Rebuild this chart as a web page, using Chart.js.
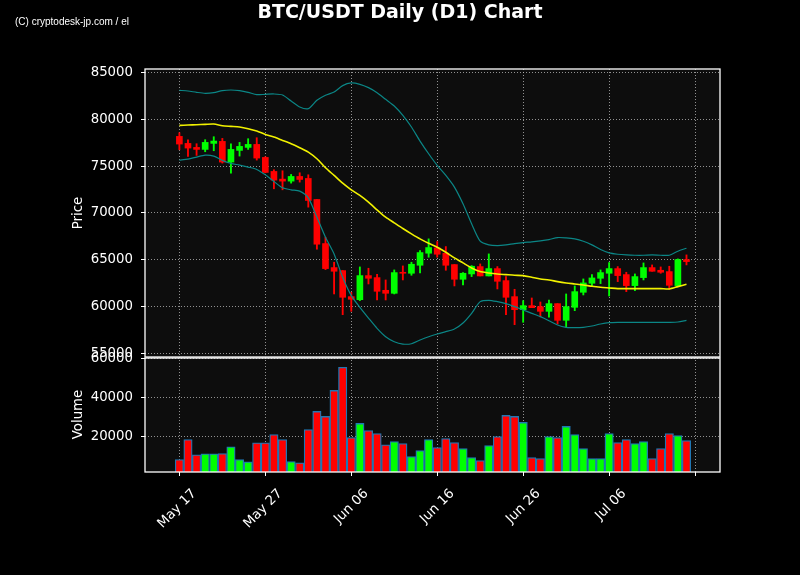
<!DOCTYPE html>
<html>
<head>
<meta charset="utf-8">
<script src="https://cdn.jsdelivr.net/npm/chart.js@4.4.1/dist/chart.umd.min.js"></script>
<style>
  html, body { margin: 0; padding: 0; background: #000; }
  canvas { display: block; }
</style>
</head>
<body>
<canvas id="c" width="800" height="575"></canvas>
<script>
// ---- data ----
const dates = ['05-17','05-18','05-19','05-20','05-21','05-22','05-23','05-24','05-25','05-26',
  '05-27','05-28','05-29','05-30','05-31','06-01','06-02','06-03','06-04','06-05',
  '06-06','06-07','06-08','06-09','06-10','06-11','06-12','06-13','06-14','06-15',
  '06-16','06-17','06-18','06-19','06-20','06-21','06-22','06-23','06-24','06-25',
  '06-26','06-27','06-28','06-29','06-30','07-01','07-02','07-03','07-04','07-05',
  '07-06','07-07','07-08','07-09','07-10','07-11','07-12','07-13','07-14','07-15'];
const open = [78165,77417,76990,76776,77417,77631,75424,76670,76990,77310,
  75922,74427,73608,73394,73893,73679,71436,66737,64174,63854,
  61077,60756,63320,63106,61753,61433,63676,63569,64423,65705,
  66274,65705,64494,62928,63498,64281,63284,64067,62786,61077,
  59688,60116,60009,59510,60329,58551,59938,61540,62501,63035,
  63569,64067,63427,62251,63106,64174,63889,63747,62251,65028];
const high = [78556,77809,77382,77809,78129,77951,77382,77524,77916,78022,
  75993,74605,74498,74106,74284,74071,71436,67414,64744,63854,
  61540,64245,64103,63462,62857,63925,64352,64744,65990,67236,
  66951,66417,64494,63640,64387,64565,65634,64281,63213,61860,
  60650,60934,60507,60721,60329,61362,62216,62964,63427,63925,
  64708,64281,63676,63498,64672,64459,64245,64316,65100,65527];
const low = [76741,76029,76136,76527,76634,75317,74249,76064,76776,75637,
  74284,72576,72469,73181,73288,70618,66134,63960,61362,59154,
  59510,60650,62426,60721,60721,61362,62857,63355,63604,65278,
  65278,63889,62216,62322,63213,63284,63284,61896,59154,58086,
  58339,59902,58922,58887,58158,57802,59582,61255,62251,62465,
  61148,62678,61611,61718,62857,63782,63569,61860,62251,64459];
const close = [77346,76919,76776,77524,77666,75424,76776,77097,77310,75851,
  74320,73501,73394,73893,73572,71330,66666,64067,63782,61006,
  60792,63320,63035,61646,61433,63640,63569,64530,65776,66310,
  65598,64423,62928,63569,64316,63284,64067,62714,61006,59688,
  60116,59902,59510,60329,58551,60009,61611,62536,63070,63640,
  64067,63320,62251,63213,64174,63782,63676,62287,65028,64814];
const volume = [8208,18462,10600,11113,11113,11284,14702,8208,7011,16753,
  16753,21025,18462,7182,6500,23589,32818,30254,43584,55376,
  19487,26665,23076,21538,15728,17437,16411,9746,12822,18462,
  14360,18975,16924,13848,9233,7695,15386,20000,30767,30254,
  27178,9233,8721,20000,19487,25127,21025,13848,8721,8721,
  21538,16924,18462,16411,17437,8721,13848,21538,20513,17950];
const bbUpper = [83078,83006,82864,82757,82828,83042,83113,83042,82864,82615,
  82650,82686,82579,81938,81298,81120,82010,82544,82900,83576,
  83861,83718,83362,82828,82116,81404,80407,79162,77666,76314,
  75068,74000,72754,70974,68838,66986,66595,66524,66595,66737,
  66844,66915,67022,67164,67378,67342,67236,66986,66595,66096,
  65740,65598,65527,65491,65491,65527,65491,65491,65918,66239];
const bbMid = [79340,79375,79410,79446,79482,79304,79233,79162,78984,78734,
  78378,78094,77738,77382,76954,76490,75780,74818,74000,73181,
  72469,71864,71152,70333,69550,68944,68339,67770,67236,66777,
  66346,65812,65206,64672,64138,63747,63604,63497,63426,63355,
  63320,63142,62964,62857,62679,62536,62430,62323,62180,62074,
  62002,61931,61931,61931,61931,61931,61931,61896,62145,62394];
const bbLower = [75637,75744,75958,76171,76064,75602,75282,75103,74890,74640,
  74071,73359,72682,72469,72326,71614,69550,67414,65634,63142,
  61184,59938,58798,57695,56805,56271,56022,56057,56449,56805,
  57090,57339,57624,58264,59297,60543,60685,60543,60329,60009,
  59653,59297,58941,58514,58051,57802,57766,57802,57944,58158,
  58300,58336,58336,58336,58336,58336,58336,58336,58371,58549];
const xTickDays = [0,10,20,30,40,50,60];
const xTickLabels = ['May 17','May 27','Jun 06','Jun 16','Jun 26','Jul 06',''];
const priceTicks = [55000,60000,65000,70000,75000,80000,85000];
const volumeTicks = [20000,40000,60000];

// ---- styles ----
const UP = '#00ff00', DOWN = '#ff0000';
const GRID = 'rgba(190,190,190,0.75)';
const FONT = 'DejaVu Sans';
const candleColors = open.map((o, i) => close[i] >= o ? UP : DOWN);

const pts = arr => arr.map((v, i) => ({ x: i, y: v }));
const lineDs = (arr, color, w) => ({
  type: 'line', data: pts(arr), yAxisID: 'y', borderColor: color, borderWidth: w,
  pointRadius: 0, tension: 0.25, fill: false, order: 0
});

const panelPlugin = {
  id: 'panels',
  beforeDraw(chart) {
    const ctx = chart.ctx, a = chart.chartArea;
    ctx.save();
    ctx.fillStyle = '#000';
    ctx.fillRect(0, 0, chart.width, chart.height);
    ctx.fillStyle = '#0d0d0d';
    ctx.fillRect(a.left, a.top, a.right - a.left, a.bottom - a.top);
    ctx.restore();
  },
  afterDraw(chart) {
    const ctx = chart.ctx, a = chart.chartArea;
    const y = chart.scales.y, yv = chart.scales.yv;
    ctx.save();
    ctx.strokeStyle = '#ffffff';
    ctx.lineWidth = 1.3;
    ctx.strokeRect(a.left, y.top, a.right - a.left, y.bottom - y.top);
    ctx.strokeRect(a.left, yv.top + 1, a.right - a.left, yv.bottom - yv.top - 1);
    ctx.fillStyle = '#ffffff';
    ctx.textAlign = 'center';
    ctx.textBaseline = 'alphabetic';
    ctx.font = 'bold 19px "' + FONT + '"';
    ctx.fillText('BTC/USDT Daily (D1) Chart', 400, 18);
    ctx.textAlign = 'left';
    ctx.font = '10px "Liberation Sans"';
    ctx.fillText('(C) cryptodesk-jp.com / el', 15, 24.5);
    ctx.restore();
  }
};

const yCommon = {
  grid: { color: GRID, lineWidth: 1, drawTicks: true, tickLength: 4, tickColor: '#fff', tickWidth: 1, tickBorderDash: [] },
  border: { display: false, dash: [1, 2] },
  ticks: { color: '#fff', font: { family: FONT, size: 13.3 }, padding: 8 },
  afterFit(s) { s.width = 80; }
};

new Chart(document.getElementById('c'), {
  type: 'bar',
  data: {
    datasets: [
      lineDs(bbUpper, '#0b8686', 1.2),
      lineDs(bbMid, '#f2f200', 1.6),
      lineDs(bbLower, '#0b8686', 1.2),
      {
        type: 'bar', data: open.map((o, i) => ({ x: i, y: [low[i], high[i]] })), yAxisID: 'y',
        backgroundColor: candleColors, borderWidth: 0, barThickness: 1.2, grouped: false, order: 1
      },
      {
        type: 'bar', data: open.map((o, i) => ({ x: i, y: [o, close[i]] })), yAxisID: 'y',
        backgroundColor: candleColors, borderWidth: 0, barThickness: 6, minBarLength: 1, grouped: false, order: 1
      },
      {
        type: 'bar', data: pts(volume), yAxisID: 'yv',
        backgroundColor: candleColors, borderColor: '#1f77b4', borderWidth: 1.3, borderSkipped: false,
        barThickness: 8.4, grouped: false, order: 2
      }
    ]
  },
  options: {
    responsive: false,
    animation: false,
    layout: { padding: { top: 69, left: 67, right: 80, bottom: 10 } },
    plugins: { legend: { display: false }, tooltip: { enabled: false }, title: { display: false } },
    scales: {
      x: {
        type: 'linear', min: -4, max: 62.9, offset: false,
        afterBuildTicks(s) { s.ticks = xTickDays.map(v => ({ value: v })); },
        afterFit(s) { s.height = 93; },
        grid: { color: GRID, lineWidth: 1, offset: false, drawTicks: true, tickLength: 4, tickColor: '#fff', tickWidth: 1, tickBorderDash: [] },
        border: { display: false, dash: [1, 2] },
        ticks: {
          color: '#fff', font: { family: FONT, size: 13.3 }, minRotation: 45, maxRotation: 45,
          autoSkip: false, padding: 10, labelOffset: 15,
          callback(v) { const k = xTickDays.indexOf(v); return k >= 0 ? xTickLabels[k] : ''; }
        }
      },
      yv: Object.assign({}, yCommon, {
        type: 'linear', position: 'left', stack: 'panes', stackWeight: 115, min: 1800, max: 60700,
        afterBuildTicks(s) { s.ticks = volumeTicks.map(v => ({ value: v })); },
        afterFit(s) { s.width = 78; },
        title: { display: true, text: 'Volume', color: '#fff', font: { family: FONT, size: 13.3 }, padding: { top: 4, bottom: 4 } },
        ticks: Object.assign({}, yCommon.ticks, { callback: v => String(v) })
      }),
      y: Object.assign({}, yCommon, {
        type: 'linear', position: 'left', stack: 'panes', stackWeight: 288, min: 54640, max: 85350,
        afterBuildTicks(s) { s.ticks = priceTicks.map(v => ({ value: v })); },
        afterFit(s) { s.width = 78; },
        title: { display: true, text: 'Price', color: '#fff', font: { family: FONT, size: 13.3 }, padding: { top: 4, bottom: 4 } },
        ticks: Object.assign({}, yCommon.ticks, { callback: v => String(v) })
      })
    }
  },
  plugins: [panelPlugin]
});
</script>
</body>
</html>
